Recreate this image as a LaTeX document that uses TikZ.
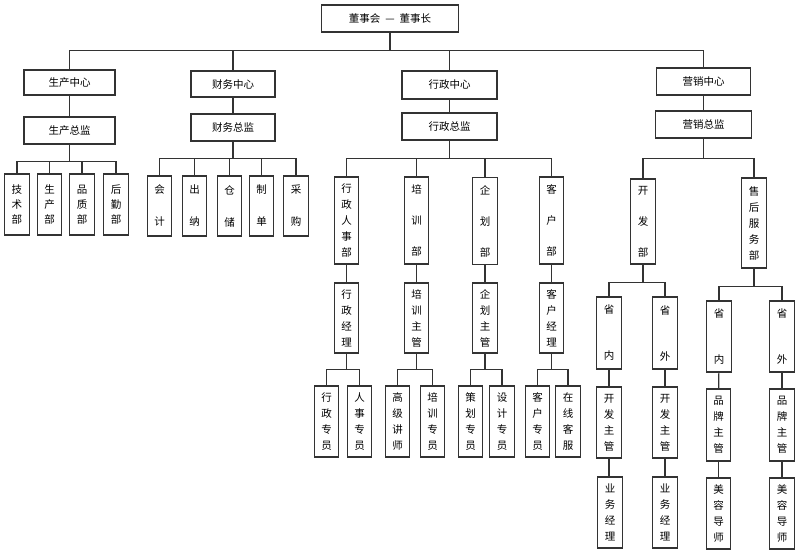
\documentclass[tikz,border=0pt]{standalone}
\usepackage{fontspec}
\newfontfamily\cjk{Noto Sans CJK SC}
\begin{document}
\begin{tikzpicture}[x=1pt,y=-1pt,
  box/.style={draw=black!80, line width=1.1pt, fill=white, inner sep=0pt},
  hb/.style 2 args={box, minimum width=#1pt, minimum height=#2pt, font=\cjk\fontsize{10.5}{13}\selectfont},
  vb/.style 2 args={box, minimum width=24.5pt, minimum height=#1pt, align=center, font=\cjk\fontsize{10.5}{#2pt}\selectfont},
  link/.style={draw=black!80, line width=1.1pt}]
\useasboundingbox[fill=white] (0,0) rectangle (800,550);

% top
\node[hb={137}{27}] (top) at (390,18.5) {董事会\hspace{5pt}—\hspace{5pt}董事长};

% production
\node[hb={91}{25}] (prodC) at (69.5,82.5) {生产中心};
\node[hb={91}{27}] (prodD) at (69.5,130.5) {生产总监};
\node[vb={61}{15}] (p1) at (17,204.5) {技\\术\\部};
\node[vb={61}{15}] (p2) at (49.5,204.5) {生\\产\\部};
\node[vb={61}{15}] (p3) at (82,204.5) {品\\质\\部};
\node[vb={61}{15}] (p4) at (116,204.5) {后\\勤\\部};

% finance
\node[hb={84}{26}] (finC) at (233,84) {财务中心};
\node[hb={84}{27}] (finD) at (233,127.5) {财务总监};
\node[vb={60}{32}] (f1) at (159.5,206) {会\\计};
\node[vb={60}{32}] (f2) at (194.5,206) {出\\纳};
\node[vb={60}{32}] (f3) at (229.5,206) {仓\\储};
\node[vb={60}{32}] (f4) at (261.5,206) {制\\单};
\node[vb={60}{32}] (f5) at (296,206) {采\\购};

% administration
\node[hb={95}{28}] (adC) at (449.5,85) {行政中心};
\node[hb={95}{27}] (adD) at (449.5,126.5) {行政总监};
\node[vb={87}{16}] (a1) at (346.5,220.5) {行\\政\\人\\事\\部};
\node[vb={87}{31}] (a2) at (416.5,220.5) {培\\训\\部};
\node[vb={87}{31}] (a3) at (485,221) {企\\划\\部};
\node[vb={87}{31}] (a4) at (551.5,220.5) {客\\户\\部};
\node[vb={70}{16}] (b1) at (346.5,318) {行\\政\\经\\理};
\node[vb={70}{16}] (b2) at (416.5,318) {培\\训\\主\\管};
\node[vb={70}{16}] (b3) at (485,318) {企\\划\\主\\管};
\node[vb={70}{16}] (b4) at (551.5,318) {客\\户\\经\\理};
\node[vb={71}{16}] (c1) at (326.5,421.5) {行\\政\\专\\员};
\node[vb={71}{16}] (c2) at (359.5,421.5) {人\\事\\专\\员};
\node[vb={71}{16}] (c3) at (397.5,421.5) {高\\级\\讲\\师};
\node[vb={71}{16}] (c4) at (432.5,421.5) {培\\训\\专\\员};
\node[vb={71}{16}] (c5) at (470.5,421.5) {策\\划\\专\\员};
\node[vb={71}{16}] (c6) at (502,421.5) {设\\计\\专\\员};
\node[vb={71}{16}] (c7) at (537.5,421.5) {客\\户\\专\\员};
\node[vb={71}{16}] (c8) at (568,421.5) {在\\线\\客\\服};

% marketing
\node[hb={94}{27}] (mkC) at (703.5,81.5) {营销中心};
\node[hb={96}{27}] (mkD) at (703.5,124.5) {营销总监};
\node[vb={85}{31}] (m1) at (643,221.5) {开\\发\\部};
\node[vb={90}{16}] (m2) at (754,223) {售\\后\\服\\务\\部};
\node[vb={72}{46}] (n1) at (609,333) {省\\内};
\node[vb={72}{46}] (n2) at (665,333) {省\\外};
\node[vb={71}{46}] (n3) at (719,336.5) {省\\内};
\node[vb={71}{46}] (n4) at (782,336.5) {省\\外};
\node[vb={71}{16}] (k1) at (609,422.5) {开\\发\\主\\管};
\node[vb={71}{16}] (k2) at (665,422.5) {开\\发\\主\\管};
\node[vb={72}{16}] (k3) at (718.5,425) {品\\牌\\主\\管};
\node[vb={72}{16}] (k4) at (782,425) {品\\牌\\主\\管};
\node[vb={71}{16}] (y1) at (610,512.5) {业\\务\\经\\理};
\node[vb={71}{16}] (y2) at (665,512.5) {业\\务\\经\\理};
\node[vb={71}{16}] (y3) at (718.5,513.5) {美\\容\\导\\师};
\node[vb={71}{16}] (y4) at (782,513.5) {美\\容\\导\\师};

% connectors
\foreach \c in {prodC,finC,adC,mkC} \draw[link] (top.south) -- ++(0,18) -| (\c.north);
\draw[link] (prodC) -- (prodD);
\draw[link] (finC) -- (finD);
\draw[link] (adC) -- (adD);
\draw[link] (mkC) -- (mkD);
\foreach \c in {p1,p2,p3,p4} \draw[link] (prodD.south) -- ++(0,17) -| (\c.north);
\foreach \c in {f1,f2,f3,f4,f5} \draw[link] (finD.south) -- ++(0,17) -| (\c.north);
\foreach \c in {a1,a2,a3,a4} \draw[link] (adD.south) -- ++(0,17.5) -| (\c.north);
\foreach \i in {1,2,3,4} \draw[link] (a\i) -- (b\i);
\foreach \c in {c1,c2} \draw[link] (b1.south) -- ++(0,16) -| (\c.north);
\foreach \c in {c3,c4} \draw[link] (b2.south) -- ++(0,16) -| (\c.north);
\foreach \c in {c5,c6} \draw[link] (b3.south) -- ++(0,16) -| (\c.north);
\foreach \c in {c7,c8} \draw[link] (b4.south) -- ++(0,16) -| (\c.north);
\foreach \c in {m1,m2} \draw[link] (mkD.south) -- ++(0,20) -| (\c.north);
\foreach \c in {n1,n2} \draw[link] (m1.south) -- ++(0,18) -| (\c.north);
\foreach \c in {n3,n4} \draw[link] (m2.south) -- ++(0,18) -| (\c.north);
\foreach \i in {1,2,3,4} \draw[link] (n\i) -- (k\i);
\foreach \i in {1,2,3,4} \draw[link] (k\i.south) -- (k\i.south |- y\i.north);
\end{tikzpicture}
\end{document}
